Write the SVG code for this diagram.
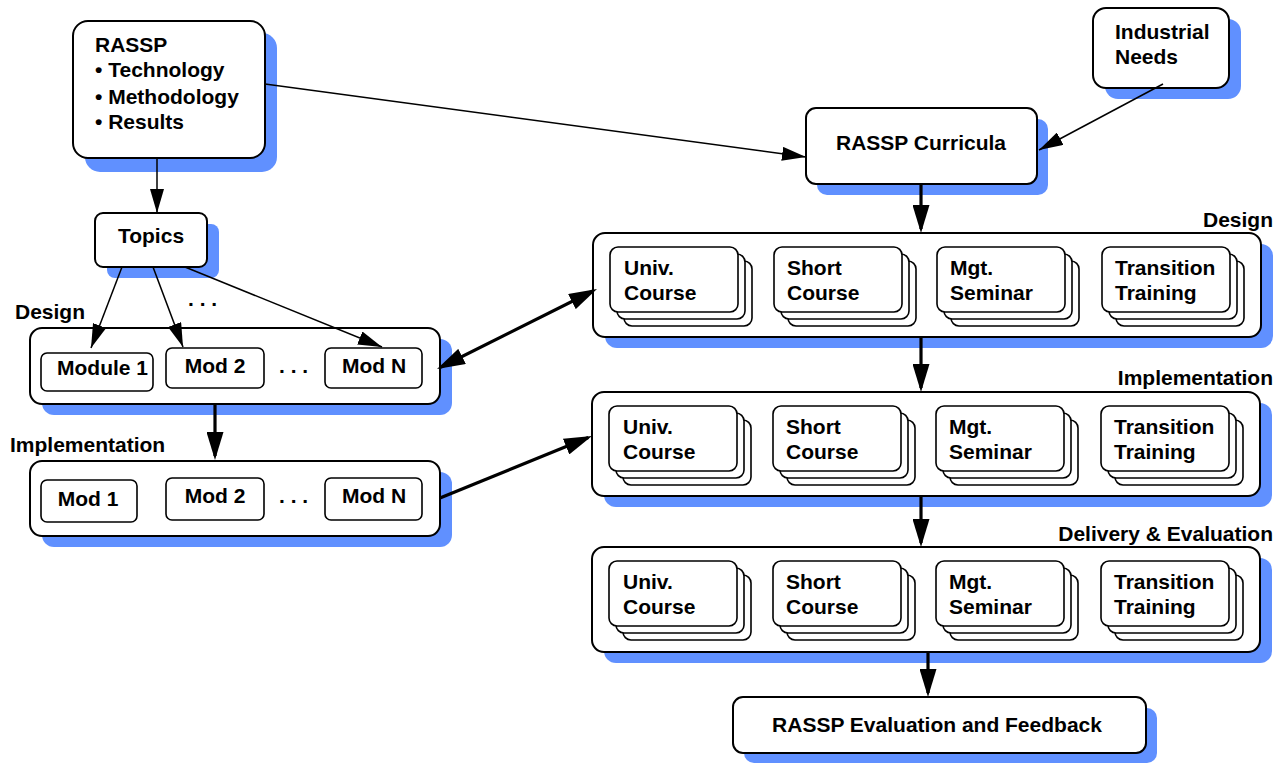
<svg xmlns="http://www.w3.org/2000/svg" width="1283" height="764" viewBox="0 0 1283 764">
<style>
text{font-family:"Liberation Sans",Arial,sans-serif;font-weight:bold;font-size:21px;fill:#000}
.sh{fill:#6090ff;stroke:none}
.bx{fill:#fff;stroke:#000;stroke-width:2}
.cd{fill:#fff;stroke:#000;stroke-width:1.6}
.mid{text-anchor:middle}
.end{text-anchor:end}
.thin{stroke:#000;stroke-width:1.5;fill:none}
.thick{stroke:#000;stroke-width:3.2;fill:none}
</style>
<defs>
<marker id="a1" markerUnits="userSpaceOnUse" markerWidth="24" markerHeight="14" refX="24" refY="7" orient="auto"><path d="M0,0 L24,7 L0,14 z" fill="#000"/></marker>
<marker id="a2" markerUnits="userSpaceOnUse" markerWidth="28" markerHeight="17" refX="24" refY="8.5" orient="auto-start-reverse"><path d="M0,0 L28,8.5 L0,17 z" fill="#000"/></marker>
<g id="stack">
<rect class="cd" x="14" y="14" width="128" height="65" rx="8"/>
<rect class="cd" x="7" y="7" width="128" height="65" rx="8"/>
<rect class="cd" x="0" y="0" width="128" height="65" rx="8"/>
</g>
</defs>

<g id="rassp">
<rect class="sh" x="85" y="33" width="192" height="139" rx="15"/>
<rect class="bx" x="73" y="21" width="192" height="137" rx="15"/>
<text x="95" y="52">RASSP</text>
<text x="95" y="77">• Technology</text>
<text x="95" y="104">• Methodology</text>
<text x="95" y="129">• Results</text>
</g>

<g id="industrial">
<rect class="sh" x="1105" y="19" width="136" height="80" rx="13"/>
<rect class="bx" x="1093" y="8" width="136" height="80" rx="13"/>
<text x="1115" y="39">Industrial</text>
<text x="1115" y="64">Needs</text>
</g>

<g id="curricula">
<rect class="sh" x="817" y="119" width="231" height="76" rx="10"/>
<rect class="bx" x="806" y="108" width="231" height="76" rx="10"/>
<text class="mid" x="921" y="150">RASSP Curricula</text>
</g>

<g id="topics">
<rect class="sh" x="107" y="224" width="112" height="54" rx="8"/>
<rect class="bx" x="95" y="213" width="112" height="54" rx="8"/>
<text class="mid" x="151" y="243">Topics</text>
<text x="188" y="306">. . .</text>
</g>

<g id="design-left">
<text x="15" y="319">Design</text>
<rect class="sh" x="42" y="339" width="410" height="76" rx="12"/>
<rect class="bx" x="30" y="328" width="410" height="76" rx="12"/>
<rect class="cd" x="41" y="353" width="112" height="38" rx="6"/>
<text x="57" y="375">Module 1</text>
<rect class="cd" x="166" y="348" width="98" height="40" rx="6"/>
<text class="mid" x="215" y="373">Mod 2</text>
<text x="279" y="373">. . .</text>
<rect class="cd" x="325" y="348" width="97" height="40" rx="6"/>
<text class="mid" x="374" y="373">Mod N</text>
</g>

<g id="impl-left">
<text x="10" y="452">Implementation</text>
<rect class="sh" x="42" y="472" width="410" height="75" rx="12"/>
<rect class="bx" x="30" y="461" width="410" height="75" rx="12"/>
<rect class="cd" x="41" y="480" width="96" height="42" rx="6"/>
<text class="mid" x="88" y="506">Mod 1</text>
<rect class="cd" x="166" y="478" width="98" height="42" rx="6"/>
<text class="mid" x="215" y="503">Mod 2</text>
<text x="279" y="503">. . .</text>
<rect class="cd" x="325" y="478" width="97" height="42" rx="6"/>
<text class="mid" x="374" y="503">Mod N</text>
</g>

<g id="design-right">
<text class="end" x="1273" y="227">Design</text>
<rect class="sh" x="605" y="244" width="668" height="104" rx="12"/>
<rect class="bx" x="593" y="233" width="668" height="104" rx="12"/>
<use href="#stack" x="610" y="247"/>
<text x="624" y="275">Univ.</text><text x="624" y="300">Course</text>
<use href="#stack" x="774" y="247"/>
<text x="787" y="275">Short</text><text x="787" y="300">Course</text>
<use href="#stack" x="937" y="247"/>
<text x="950" y="275">Mgt.</text><text x="950" y="300">Seminar</text>
<use href="#stack" x="1102" y="247"/>
<text x="1115" y="275">Transition</text><text x="1115" y="300">Training</text>
</g>

<g id="impl-right">
<text class="end" x="1273" y="385">Implementation</text>
<rect class="sh" x="604" y="403" width="668" height="104" rx="12"/>
<rect class="bx" x="592" y="392" width="668" height="104" rx="12"/>
<use href="#stack" x="609" y="406"/>
<text x="623" y="434">Univ.</text><text x="623" y="459">Course</text>
<use href="#stack" x="773" y="406"/>
<text x="786" y="434">Short</text><text x="786" y="459">Course</text>
<use href="#stack" x="936" y="406"/>
<text x="949" y="434">Mgt.</text><text x="949" y="459">Seminar</text>
<use href="#stack" x="1101" y="406"/>
<text x="1114" y="434">Transition</text><text x="1114" y="459">Training</text>
</g>

<g id="delivery-right">
<text class="end" x="1273" y="541">Delivery &amp; Evaluation</text>
<rect class="sh" x="604" y="558" width="668" height="105" rx="12"/>
<rect class="bx" x="592" y="547" width="668" height="105" rx="12"/>
<use href="#stack" x="609" y="561"/>
<text x="623" y="589">Univ.</text><text x="623" y="614">Course</text>
<use href="#stack" x="773" y="561"/>
<text x="786" y="589">Short</text><text x="786" y="614">Course</text>
<use href="#stack" x="936" y="561"/>
<text x="949" y="589">Mgt.</text><text x="949" y="614">Seminar</text>
<use href="#stack" x="1101" y="561"/>
<text x="1114" y="589">Transition</text><text x="1114" y="614">Training</text>
</g>

<g id="evaluation">
<rect class="sh" x="744" y="708" width="413" height="55" rx="10"/>
<rect class="bx" x="733" y="697" width="413" height="56" rx="10"/>
<text class="mid" x="937" y="732">RASSP Evaluation and Feedback</text>
</g>

<g id="connectors">
<line class="thin" x1="265" y1="84" x2="806" y2="157" marker-end="url(#a1)"/>
<line class="thin" x1="1163" y1="84" x2="1039" y2="150" marker-end="url(#a1)"/>
<line class="thin" x1="157" y1="158" x2="157" y2="213" marker-end="url(#a1)"/>
<line class="thin" x1="122" y1="267" x2="91" y2="348" marker-end="url(#a1)"/>
<line class="thin" x1="153" y1="267" x2="183" y2="347" marker-end="url(#a1)"/>
<line class="thin" x1="185" y1="267" x2="382" y2="347" marker-end="url(#a1)"/>
<line class="thick" x1="215" y1="404" x2="215" y2="456" marker-end="url(#a2)"/>
<line class="thick" x1="440.6" y1="367.2" x2="593.4" y2="290.8" marker-start="url(#a2)" marker-end="url(#a2)"/>
<line class="thick" x1="440" y1="498" x2="588.3" y2="437.5" marker-end="url(#a2)"/>
<line class="thick" x1="921" y1="184" x2="921" y2="229" marker-end="url(#a2)"/>
<line class="thick" x1="921" y1="337" x2="921" y2="388" marker-end="url(#a2)"/>
<line class="thick" x1="921" y1="496" x2="921" y2="543" marker-end="url(#a2)"/>
<line class="thick" x1="928" y1="652" x2="928" y2="693" marker-end="url(#a2)"/>
</g>
</svg>
